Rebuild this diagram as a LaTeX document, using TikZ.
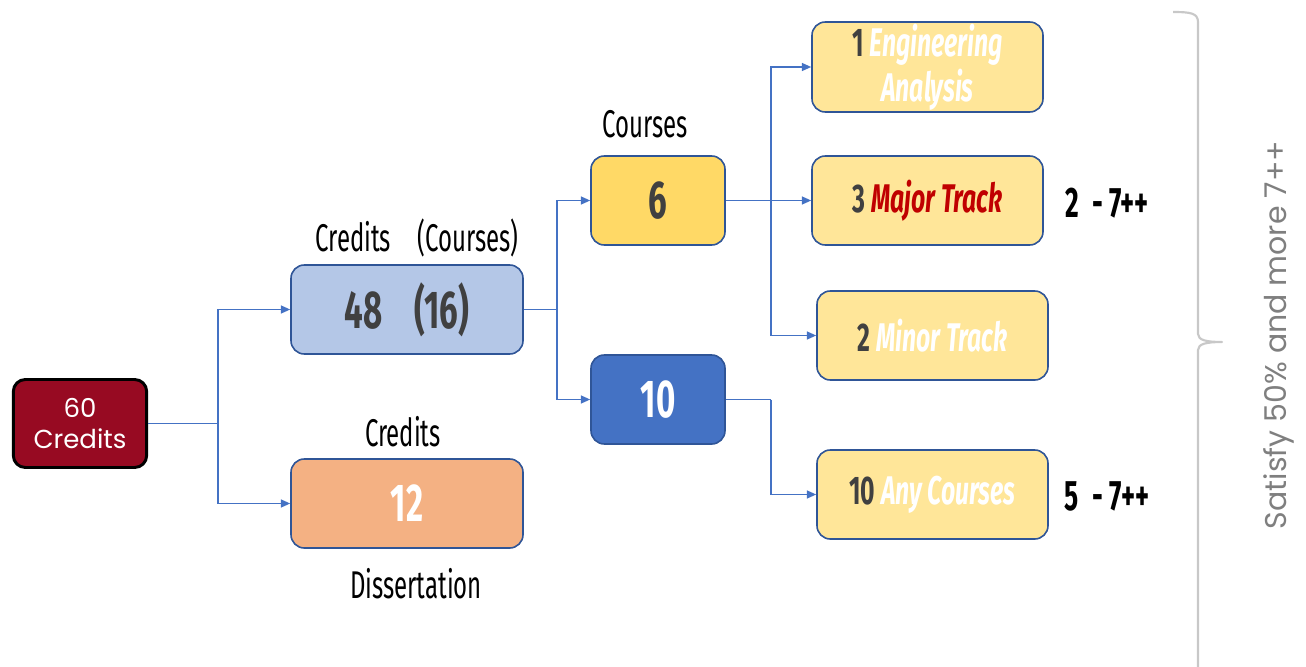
\documentclass[tikz,border=0pt]{standalone}
\usepackage{fontspec}
\usetikzlibrary{arrows.meta}
\newfontfamily\agency[FakeStretch=0.62]{Fira Sans}
\newfontfamily\gothic{Poppins}
\definecolor{dred}{RGB}{151,10,34}
\definecolor{lblue}{RGB}{68,114,196}
\definecolor{bord}{RGB}{47,85,151}
\definecolor{paleblue}{RGB}{180,199,231}
\definecolor{orng}{RGB}{244,177,131}
\definecolor{gold}{RGB}{255,217,102}
\definecolor{pyellow}{RGB}{255,230,153}
\definecolor{dgray}{RGB}{64,64,64}
\definecolor{redtxt}{RGB}{192,0,0}
\definecolor{bracegray}{RGB}{200,200,200}
\definecolor{txtgray}{RGB}{127,127,127}
\tikzset{
  boxbase/.style={draw=bord, line width=1.2pt, rounded corners=10pt, align=center, inner sep=0pt},
  bigbox/.style={boxbase, minimum width=174pt, minimum height=66.75pt},
  smallbox/.style={boxbase, minimum width=100.5pt, minimum height=66.75pt},
  ybox/.style={boxbase, fill=pyellow, minimum width=173.25pt, minimum height=66.75pt, font=\agency\bfseries\fontsize{30}{31}\selectfont},
  bignum/.style={font=\agency\bfseries\fontsize{40}{42}\selectfont},
  lbl/.style={font=\agency\fontsize{29}{31}\selectfont, inner sep=0pt},
  rng/.style={font=\agency\bfseries\fontsize{32}{34}\selectfont, inner sep=0pt},
  conn/.style={draw=lblue, line width=1.1pt},
  arr/.style={conn, -{Triangle[length=7pt,width=6pt]}},
}
\begin{document}
\begin{tikzpicture}[x=0.75pt,y=-0.75pt]
\useasboundingbox (0,0) rectangle (1306,667);
% nodes
\node[draw=black, line width=2.2pt, fill=dred, rounded corners=9pt, minimum width=100pt, minimum height=66pt, align=center, inner sep=0pt,
      font=\gothic\fontsize{19.5}{23}\selectfont, text=white] (c60) at (80,423.5) {60\\Credits};
\node[bigbox, fill=paleblue, bignum, text=dgray] (n48) at (407,309.5) {48\hspace{24pt}(16)};
\node[bigbox, fill=orng, bignum, text=white] (n12) at (407,503.5) {12};
\node[smallbox, fill=gold, bignum, text=dgray] (n6) at (658,200.5) {6};
\node[smallbox, fill=lblue, bignum, text=white] (n10) at (658,399.5) {10};
\node[ybox, minimum height=67.5pt] (eng) at (927.5,67) {\textcolor{dgray}{1} \textcolor{white}{\itshape Engineering}\\[3pt]\textcolor{white}{\itshape Analysis}};
\node[ybox] (maj) at (927.5,200.5) {\textcolor{dgray}{3} \textcolor{redtxt}{\itshape Major Track}};
\node[ybox] (mnr) at (932.5,335.5) {\textcolor{dgray}{2} \textcolor{white}{\itshape Minor Track}};
\node[ybox] (any) at (932.5,494.5) {\textcolor{dgray}{10} \textcolor{white}{\itshape Any Courses}};
% labels
\node[lbl] (l48) at (417,238) {Credits\hspace{20pt}(Courses)};
\node[lbl] (l12) at (403,432) {Credits};
\node[lbl] (ldis) at (416,584) {Dissertation};
\node[lbl] (l6) at (645,124) {Courses};
\node[rng] (r1) at (1107,203) {2\hspace{10pt}- 7++};
\node[rng] (r2) at (1107,496) {5\hspace{10pt}- 7++};
% connectors
\coordinate (j1) at (218,423.5);
\coordinate (j2) at (557,309.5);
\coordinate (j3) at (771,200.5);
\coordinate (j4) at (771,399.5);
\draw[conn] (c60.east) -- (j1);
\draw[arr] (j1) |- (n48.west);
\draw[arr] (j1) |- (n12.west);
\draw[conn] (n48.east) -- (j2);
\draw[arr] (j2) |- (n6.west);
\draw[arr] (j2) |- (n10.west);
\draw[conn] (n6.east) -- (j3);
\draw[arr] (j3) |- (eng.west);
\draw[arr] (j3) -- (maj.west);
\draw[arr] (j3) |- (mnr.west);
\draw[conn] (n10.east) -- (j4);
\draw[arr] (j4) |- (any.west);
% brace
\draw[bracegray, line width=1.6pt, line join=round]
  (1173,12) .. controls (1190,12) and (1198,13) .. (1198,22) -- (1198,334)
  .. controls (1198,340) and (1206,342) .. (1222,342)
  .. controls (1206,342) and (1198,344) .. (1198,350) -- (1198,670);
\node[rotate=90, text=txtgray, font=\gothic\fontsize{22.5}{26}\selectfont, inner sep=0pt] (sat) at (1279,335) {Satisfy 50\% and more 7++};
\end{tikzpicture}
\end{document}
